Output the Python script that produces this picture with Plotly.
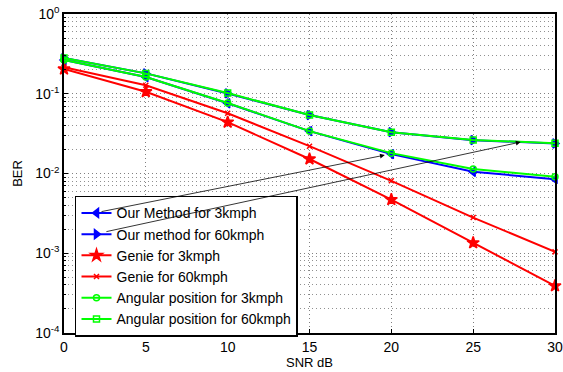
import plotly.graph_objects as go
import math

snr = [0, 5, 10, 15, 20, 25, 30]
our_3 = [0.265, 0.162, 0.076, 0.034, 0.0175, 0.0105, 0.0085]
our_60 = [0.28, 0.18, 0.101, 0.054, 0.033, 0.0262, 0.0238]
genie_3 = [0.204, 0.106, 0.044, 0.0152, 0.0047, 0.00135, 0.00039]
genie_60 = [0.215, 0.128, 0.057, 0.022, 0.0081, 0.0028, 0.00104]
ang_3 = [0.265, 0.162, 0.0766, 0.034, 0.018, 0.0114, 0.0091]
ang_60 = [0.28, 0.18, 0.102, 0.054, 0.033, 0.0263, 0.024]

names = ["Our Method for 3kmph", "Our method for 60kmph", "Genie for 3kmph",
         "Genie for 60kmph", "Angular position for 3kmph", "Angular position for 60kmph"]
series = [our_3, our_60, genie_3, genie_60, ang_3, ang_60]
colors = ["#0000FF", "#0000FF", "#FF0000", "#FF0000", "#00FF00", "#00FF00"]
symbols = ["triangle-left", "triangle-right", "star", "x-thin", "circle-open", "square-open"]
msizes = [8, 8, 9, 5, 6, 6]

# arrows: (start x, start y) -> (tip x, tip y)
arrow_tail = [(2.2, 0.0033), (2.5, 0.00185)]
arrow_head = [(19.6, 0.017), (27.9, 0.0248)]

ytickvals = [1e-4, 1e-3, 1e-2, 1e-1, 1]
yticktext = ["10<sup>-4</sup>", "10<sup>-3</sup>", "10<sup>-2</sup>", "10<sup>-1</sup>", "10<sup>0</sup>"]

fig = go.Figure()
for n, s, c, sym, ms in zip(names, series, colors, symbols, msizes):
    fig.add_trace(go.Scatter(
        x=snr, y=s, name=n, mode="lines+markers",
        line=dict(color=c, width=2),
        marker=dict(symbol=sym, size=ms, color=c, line=dict(color=c, width=1.5)),
        cliponaxis=False,
    ))

for (tx, ty), (hx, hy) in zip(arrow_tail, arrow_head):
    fig.add_annotation(
        x=hx, y=math.log10(hy), ax=tx, ay=math.log10(ty),
        xref="x", yref="y", axref="x", ayref="y",
        showarrow=True, arrowhead=2, arrowsize=1.2, arrowwidth=0.8,
        arrowcolor="black", text="",
    )

grid_dash = "1px,3px"
fig.update_layout(
    width=563, height=372,
    margin=dict(l=64, r=8, t=14, b=39),
    paper_bgcolor="white", plot_bgcolor="white",
    font=dict(family="Liberation Sans, Arial, sans-serif", size=14, color="black"),
    showlegend=True,
    legend=dict(
        x=0.0224, y=0.43, xanchor="left", yanchor="top",
        bgcolor="white", bordercolor="black", borderwidth=1.5,
        font=dict(size=14), tracegroupgap=0, itemwidth=30,
    ),
    xaxis=dict(
        range=[0, 30], tickvals=[0, 5, 10, 15, 20, 25, 30],
        automargin=False,
        showline=True, linecolor="black", linewidth=1.5, mirror=True,
        ticks="inside", ticklen=4, tickcolor="black",
        showgrid=True, gridcolor="#808080", griddash=grid_dash, gridwidth=1,
        zeroline=False,
        title=dict(text="SNR dB", standoff=0, font=dict(size=13)),
    ),
    yaxis=dict(
        type="log", range=[-4, 0],
        automargin=False,
        tickvals=ytickvals, ticktext=yticktext,
        showline=True, linecolor="black", linewidth=1.5, mirror=True,
        ticks="inside", ticklen=4, tickcolor="black",
        showgrid=True, gridcolor="#808080", griddash=grid_dash, gridwidth=1,
        zeroline=False,
        minor=dict(showgrid=True, gridcolor="#909090", griddash=grid_dash, gridwidth=1,
                   ticks="inside", ticklen=2, tickcolor="black", dtick="D1"),
        title=dict(text="BER", standoff=10, font=dict(size=13)),
    ),
)

fig.write_html("out.html", config={"displayModeBar": False},
               post_script="document.body.style.margin='0';")
